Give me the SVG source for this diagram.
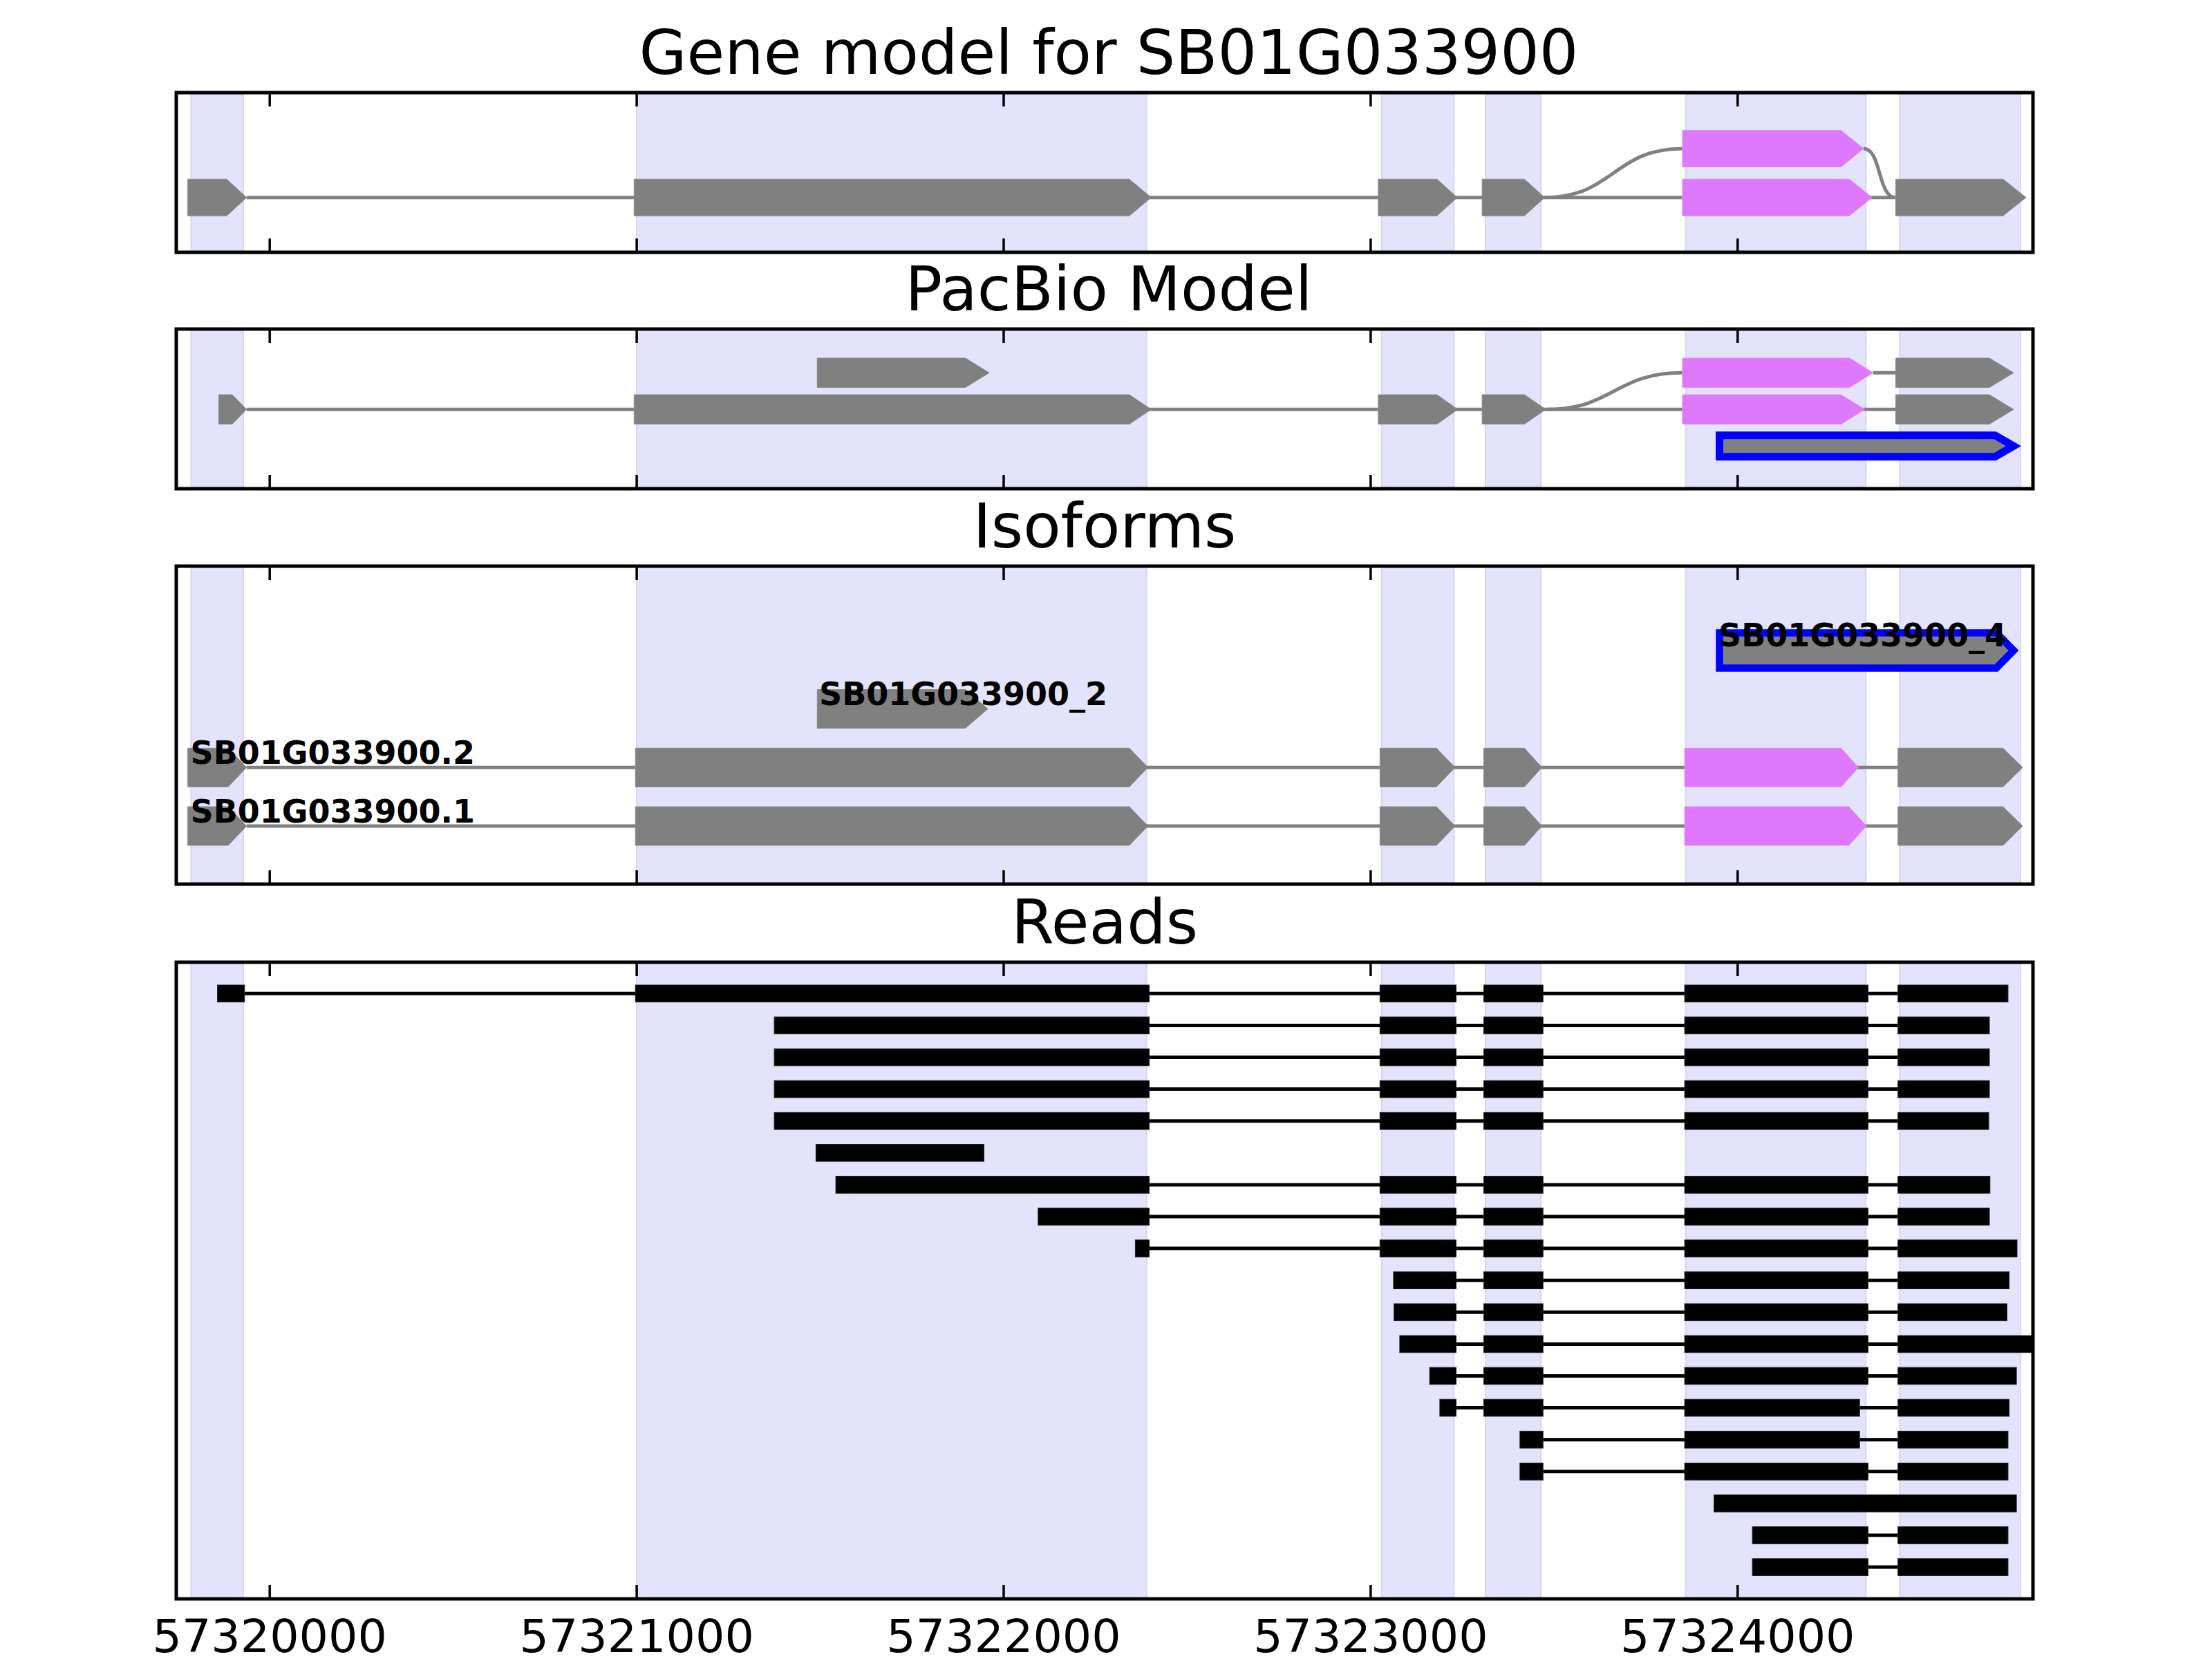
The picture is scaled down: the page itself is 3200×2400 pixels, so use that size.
<svg xmlns="http://www.w3.org/2000/svg" width="3200" height="2400" viewBox="0 0 3200 2400">
<style>
.bg{fill:#ffffff}
.span{fill:#e3e3fc;stroke:#d6d6ee;stroke-width:2}
.frame{fill:none;stroke:#000;stroke-width:5}
.tick{stroke:#000;stroke-width:3.5}
.title{font-family:"DejaVu Sans","Liberation Sans",sans-serif;font-size:89px;fill:#000;text-anchor:middle}
.tl{font-family:"DejaVu Sans","Liberation Sans",sans-serif;font-size:66.7px;fill:#000;text-anchor:middle}
.lab{font-family:"DejaVu Sans","Liberation Sans",sans-serif;font-weight:bold;font-size:46px;fill:#000}
.ex{fill:#808080;stroke:#8a8a8a;stroke-width:1}
.pk{fill:#de78fc;stroke:#e08cfa;stroke-width:1}
.bl{fill:#808080;stroke:#0000ff;stroke-width:11;stroke-linejoin:miter}
.gl{fill:none;stroke:#808080;stroke-width:5}
.rd{fill:#000;stroke:#222;stroke-width:1}
.rl{stroke:#000;stroke-width:5}
</style>
<defs>
<clipPath id="c4"><rect x="255" y="1392" width="2686" height="921"/></clipPath>
</defs>
<rect class="bg" x="0" y="0" width="3200" height="2400"/>

<!-- Titles -->
<text class="title" x="1604" y="107">Gene model for SB01G033900</text>
<text class="title" x="1604" y="449">PacBio Model</text>
<text class="title" x="1598" y="792">Isoforms</text>
<text class="title" x="1598" y="1365">Reads</text>

<!-- Panel 1 -->
<g id="panel1-bg">
<rect class="span" x="276.4" y="136" width="75.6" height="227"/>
<rect class="span" x="921" y="136" width="737.7" height="227"/>
<rect class="span" x="1998.8" y="136" width="104.5" height="227"/>
<rect class="span" x="2149" y="136" width="80" height="227"/>
<rect class="span" x="2438.8" y="136" width="260.4" height="227"/>
<rect class="span" x="2748.2" y="136" width="174.7" height="227"/>
</g>
<g id="panel1-ticks">
<line class="tick" x1="390.2" y1="134" x2="390.2" y2="154"/><line class="tick" x1="390.2" y1="365" x2="390.2" y2="345"/>
<line class="tick" x1="921.1" y1="134" x2="921.1" y2="154"/><line class="tick" x1="921.1" y1="365" x2="921.1" y2="345"/>
<line class="tick" x1="1452" y1="134" x2="1452" y2="154"/><line class="tick" x1="1452" y1="365" x2="1452" y2="345"/>
<line class="tick" x1="1982.9" y1="134" x2="1982.9" y2="154"/><line class="tick" x1="1982.9" y1="365" x2="1982.9" y2="345"/>
<line class="tick" x1="2513.8" y1="134" x2="2513.8" y2="154"/><line class="tick" x1="2513.8" y1="365" x2="2513.8" y2="345"/>
</g>
<g id="connectors-panel1">
<line class="gl" x1="356.7" y1="285.7" x2="2742.4" y2="285.7"/>
<path class="gl" d="M2234.7,285.7 C2334,285.7 2334,215 2433.9,215"/>
<path class="gl" d="M2695.9,215 C2722,215 2716,285.7 2742.4,285.7"/>
</g>
<g id="gene-model">
<polygon class="ex" points="271.6,259.2 328,259.2 356.7,285.7 328,312.2 271.6,312.2"/>
<polygon class="ex" points="917.3,259.2 1633.8,259.2 1665.4,285.7 1633.8,312.2 917.3,312.2"/>
<polygon class="ex" points="1993.9,259.2 2078.8,259.2 2108.2,285.7 2078.8,312.2 1993.9,312.2"/>
<polygon class="ex" points="2144.1,259.2 2205.3,259.2 2234.7,285.7 2205.3,312.2 2144.1,312.2"/>
<polygon class="pk" points="2433.9,259.2 2675.5,259.2 2708.2,285.7 2675.5,312.2 2433.9,312.2"/>
<polygon class="ex" points="2742.4,259.2 2897.6,259.2 2931,285.7 2897.6,312.2 2742.4,312.2"/>
<polygon class="pk" points="2433.9,188.5 2663.3,188.5 2695.9,215 2663.3,241.5 2433.9,241.5"/>
</g>
<rect class="frame" x="255" y="134" width="2686" height="231"/>

<!-- Panel 2 -->
<g id="panel2-bg">
<rect class="span" x="276.4" y="478" width="75.6" height="227"/>
<rect class="span" x="921" y="478" width="737.7" height="227"/>
<rect class="span" x="1998.8" y="478" width="104.5" height="227"/>
<rect class="span" x="2149" y="478" width="80" height="227"/>
<rect class="span" x="2438.8" y="478" width="260.4" height="227"/>
<rect class="span" x="2748.2" y="478" width="174.7" height="227"/>
</g>
<g id="panel2-ticks">
<line class="tick" x1="390.2" y1="476" x2="390.2" y2="496"/><line class="tick" x1="390.2" y1="707" x2="390.2" y2="687"/>
<line class="tick" x1="921.1" y1="476" x2="921.1" y2="496"/><line class="tick" x1="921.1" y1="707" x2="921.1" y2="687"/>
<line class="tick" x1="1452" y1="476" x2="1452" y2="496"/><line class="tick" x1="1452" y1="707" x2="1452" y2="687"/>
<line class="tick" x1="1982.9" y1="476" x2="1982.9" y2="496"/><line class="tick" x1="1982.9" y1="707" x2="1982.9" y2="687"/>
<line class="tick" x1="2513.8" y1="476" x2="2513.8" y2="496"/><line class="tick" x1="2513.8" y1="707" x2="2513.8" y2="687"/>
</g>
<g id="connectors-panel2">
<line class="gl" x1="356.7" y1="592.3" x2="2742.4" y2="592.3"/>
<line class="gl" x1="2709.8" y1="539.3" x2="2742.4" y2="539.3"/>
<path class="gl" d="M2236.3,592.3 C2335,592.3 2335,539.3 2433.9,539.3"/>
</g>
<g id="pacbio-model">
<polygon class="ex" points="1182.3,518 1396.6,518 1431,539.3 1396.6,560.6 1182.3,560.6"/>
<polygon class="pk" points="2433.9,518 2675.5,518 2709.8,539.3 2675.5,560.6 2433.9,560.6"/>
<polygon class="ex" points="2742.4,518 2878,518 2913,539.3 2878,560.6 2742.4,560.6"/>
<polygon class="ex" points="316.5,571 336,571 356.7,592.3 336,613.6 316.5,613.6"/>
<polygon class="ex" points="917.3,571 1633.8,571 1665.4,592.3 1633.8,613.6 917.3,613.6"/>
<polygon class="ex" points="1993.9,571 2078.8,571 2109,592.3 2078.8,613.6 1993.9,613.6"/>
<polygon class="ex" points="2144.1,571 2205.3,571 2236.3,592.3 2205.3,613.6 2144.1,613.6"/>
<polygon class="pk" points="2433.9,571 2663.3,571 2697.6,592.3 2663.3,613.6 2433.9,613.6"/>
<polygon class="ex" points="2742.4,571 2878,571 2913,592.3 2878,613.6 2742.4,613.6"/>
<polygon class="bl" points="2487.5,629.8 2886,629.8 2913,645.3 2886,660.8 2487.5,660.8"/>
</g>
<rect class="frame" x="255" y="476" width="2686" height="231"/>

<!-- Panel 3 -->
<g id="panel3-bg">
<rect class="span" x="276.4" y="821" width="75.6" height="456"/>
<rect class="span" x="921" y="821" width="737.7" height="456"/>
<rect class="span" x="1998.8" y="821" width="104.5" height="456"/>
<rect class="span" x="2149" y="821" width="80" height="456"/>
<rect class="span" x="2438.8" y="821" width="260.4" height="456"/>
<rect class="span" x="2748.2" y="821" width="174.7" height="456"/>
</g>
<g id="panel3-ticks">
<line class="tick" x1="390.2" y1="819" x2="390.2" y2="839"/><line class="tick" x1="390.2" y1="1279" x2="390.2" y2="1259"/>
<line class="tick" x1="921.1" y1="819" x2="921.1" y2="839"/><line class="tick" x1="921.1" y1="1279" x2="921.1" y2="1259"/>
<line class="tick" x1="1452" y1="819" x2="1452" y2="839"/><line class="tick" x1="1452" y1="1279" x2="1452" y2="1259"/>
<line class="tick" x1="1982.9" y1="819" x2="1982.9" y2="839"/><line class="tick" x1="1982.9" y1="1279" x2="1982.9" y2="1259"/>
<line class="tick" x1="2513.8" y1="819" x2="2513.8" y2="839"/><line class="tick" x1="2513.8" y1="1279" x2="2513.8" y2="1259"/>
</g>
<g id="connectors-panel3">
<line class="gl" x1="356.7" y1="1110.3" x2="2745.7" y2="1110.3"/>
<line class="gl" x1="356.7" y1="1195" x2="2745.7" y2="1195"/>
</g>
<g id="iso-4">
<polygon class="bl" points="2487.5,915.5 2888,915.5 2913,941 2888,966.5 2487.5,966.5" style="stroke-width:10.5"/>
<text class="lab" x="2486" y="935">SB01G033900_4</text>
</g>
<g id="iso-_2">
<polygon class="ex" points="1182.3,997.5 1396.6,997.5 1429.1,1025.5 1396.6,1053.5 1182.3,1053.5"/>
<text class="lab" x="1185" y="1020">SB01G033900_2</text>
</g>
<g id="iso-.2">
<polygon class="ex" points="271.6,1082.3 330,1082.3 356.7,1110.3 330,1138.3 271.6,1138.3"/>
<polygon class="ex" points="919.2,1082.3 1633.8,1082.3 1660.6,1110.3 1633.8,1138.3 919.2,1138.3"/>
<polygon class="ex" points="1996.3,1082.3 2078,1082.3 2105,1110.3 2078,1138.3 1996.3,1138.3"/>
<polygon class="ex" points="2146.5,1082.3 2205.3,1082.3 2230.6,1110.3 2205.3,1138.3 2146.5,1138.3"/>
<polygon class="pk" points="2437.1,1082.3 2663.3,1082.3 2688.6,1110.3 2663.3,1138.3 2437.1,1138.3"/>
<polygon class="ex" points="2745.7,1082.3 2897.6,1082.3 2926.1,1110.3 2897.6,1138.3 2745.7,1138.3"/>
<text class="lab" x="275.5" y="1105">SB01G033900.2</text>
</g>
<g id="iso-.1">
<polygon class="ex" points="271.6,1167 330,1167 356.7,1195 330,1223 271.6,1223"/>
<polygon class="ex" points="919.2,1167 1633.8,1167 1660.6,1195 1633.8,1223 919.2,1223"/>
<polygon class="ex" points="1996.3,1167 2078,1167 2105,1195 2078,1223 1996.3,1223"/>
<polygon class="ex" points="2146.5,1167 2205.3,1167 2230.6,1195 2205.3,1223 2146.5,1223"/>
<polygon class="pk" points="2437.1,1167 2674.7,1167 2700,1195 2674.7,1223 2437.1,1223"/>
<polygon class="ex" points="2745.7,1167 2897.6,1167 2926.1,1195 2897.6,1223 2745.7,1223"/>
<text class="lab" x="275.5" y="1190">SB01G033900.1</text>
</g>
<rect class="frame" x="255" y="819" width="2686" height="460"/>

<!-- Panel 4 -->
<g id="panel4-bg">
<rect class="span" x="276.4" y="1394" width="75.6" height="917"/>
<rect class="span" x="921" y="1394" width="737.7" height="917"/>
<rect class="span" x="1998.8" y="1394" width="104.5" height="917"/>
<rect class="span" x="2149" y="1394" width="80" height="917"/>
<rect class="span" x="2438.8" y="1394" width="260.4" height="917"/>
<rect class="span" x="2748.2" y="1394" width="174.7" height="917"/>
</g>
<g id="panel4-ticks">
<line class="tick" x1="390.2" y1="1392" x2="390.2" y2="1412"/><line class="tick" x1="390.2" y1="2313" x2="390.2" y2="2293"/>
<line class="tick" x1="921.1" y1="1392" x2="921.1" y2="1412"/><line class="tick" x1="921.1" y1="2313" x2="921.1" y2="2293"/>
<line class="tick" x1="1452" y1="1392" x2="1452" y2="1412"/><line class="tick" x1="1452" y1="2313" x2="1452" y2="2293"/>
<line class="tick" x1="1982.9" y1="1392" x2="1982.9" y2="1412"/><line class="tick" x1="1982.9" y1="2313" x2="1982.9" y2="2293"/>
<line class="tick" x1="2513.8" y1="1392" x2="2513.8" y2="1412"/><line class="tick" x1="2513.8" y1="2313" x2="2513.8" y2="2293"/>
</g>
<g id="connectors-reads" clip-path="url(#c4)">
<line class="rl" x1="353.8" y1="1437.3" x2="2745.7" y2="1437.3"/>
<line class="rl" x1="1662.5" y1="1483.4" x2="2745.7" y2="1483.4"/>
<line class="rl" x1="1662.5" y1="1529.5" x2="2745.7" y2="1529.5"/>
<line class="rl" x1="1662.5" y1="1575.6" x2="2745.7" y2="1575.6"/>
<line class="rl" x1="1662.5" y1="1621.7" x2="2745.7" y2="1621.7"/>
<line class="rl" x1="1662.5" y1="1713.9" x2="2745.7" y2="1713.9"/>
<line class="rl" x1="1662.5" y1="1760" x2="2745.7" y2="1760"/>
<line class="rl" x1="1662.5" y1="1806.1" x2="2745.7" y2="1806.1"/>
<line class="rl" x1="2106.5" y1="1852.2" x2="2745.7" y2="1852.2"/>
<line class="rl" x1="2106.5" y1="1898.3" x2="2745.7" y2="1898.3"/>
<line class="rl" x1="2106.5" y1="1944.4" x2="2745.7" y2="1944.4"/>
<line class="rl" x1="2106.5" y1="1990.5" x2="2745.7" y2="1990.5"/>
<line class="rl" x1="2106.5" y1="2036.6" x2="2745.7" y2="2036.6"/>
<line class="rl" x1="2232.2" y1="2082.7" x2="2745.7" y2="2082.7"/>
<line class="rl" x1="2232.2" y1="2128.8" x2="2745.7" y2="2128.8"/>
<line class="rl" x1="2702.4" y1="2221" x2="2745.7" y2="2221"/>
<line class="rl" x1="2702.4" y1="2267.1" x2="2745.7" y2="2267.1"/>
</g>
<g id="reads" clip-path="url(#c4)">
<g id="read1"><rect class="rd" x="314.6" y="1425" width="39.2" height="24.6"/><rect class="rd" x="919.2" y="1425" width="743.3" height="24.6"/><rect class="rd" x="1996.3" y="1425" width="110.2" height="24.6"/><rect class="rd" x="2146.5" y="1425" width="85.7" height="24.6"/><rect class="rd" x="2437.1" y="1425" width="265.3" height="24.6"/><rect class="rd" x="2745.7" y="1425" width="159.2" height="24.6"/></g>
<g id="read2"><rect class="rd" x="1120.1" y="1471.1" width="542.4" height="24.6"/><rect class="rd" x="1996.3" y="1471.1" width="110.2" height="24.6"/><rect class="rd" x="2146.5" y="1471.1" width="85.7" height="24.6"/><rect class="rd" x="2437.1" y="1471.1" width="265.3" height="24.6"/><rect class="rd" x="2745.7" y="1471.1" width="132.3" height="24.6"/></g>
<g id="read3"><rect class="rd" x="1120.1" y="1517.2" width="542.4" height="24.6"/><rect class="rd" x="1996.3" y="1517.2" width="110.2" height="24.6"/><rect class="rd" x="2146.5" y="1517.2" width="85.7" height="24.6"/><rect class="rd" x="2437.1" y="1517.2" width="265.3" height="24.6"/><rect class="rd" x="2745.7" y="1517.2" width="132.3" height="24.6"/></g>
<g id="read4"><rect class="rd" x="1120.1" y="1563.3" width="542.4" height="24.6"/><rect class="rd" x="1996.3" y="1563.3" width="110.2" height="24.6"/><rect class="rd" x="2146.5" y="1563.3" width="85.7" height="24.6"/><rect class="rd" x="2437.1" y="1563.3" width="265.3" height="24.6"/><rect class="rd" x="2745.7" y="1563.3" width="132.3" height="24.6"/></g>
<g id="read5"><rect class="rd" x="1120.1" y="1609.4" width="542.4" height="24.6"/><rect class="rd" x="1996.3" y="1609.4" width="110.2" height="24.6"/><rect class="rd" x="2146.5" y="1609.4" width="85.7" height="24.6"/><rect class="rd" x="2437.1" y="1609.4" width="265.3" height="24.6"/><rect class="rd" x="2745.7" y="1609.4" width="131.3" height="24.6"/></g>
<g id="read6"><rect class="rd" x="1180.4" y="1655.5" width="243" height="24.6"/></g>
<g id="read7"><rect class="rd" x="1209.1" y="1701.6" width="453.4" height="24.6"/><rect class="rd" x="1996.3" y="1701.6" width="110.2" height="24.6"/><rect class="rd" x="2146.5" y="1701.6" width="85.7" height="24.6"/><rect class="rd" x="2437.1" y="1701.6" width="265.3" height="24.6"/><rect class="rd" x="2745.7" y="1701.6" width="133.1" height="24.6"/></g>
<g id="read8"><rect class="rd" x="1501.8" y="1747.7" width="160.7" height="24.6"/><rect class="rd" x="1996.3" y="1747.7" width="110.2" height="24.6"/><rect class="rd" x="2146.5" y="1747.7" width="85.7" height="24.6"/><rect class="rd" x="2437.1" y="1747.7" width="265.3" height="24.6"/><rect class="rd" x="2745.7" y="1747.7" width="132.3" height="24.6"/></g>
<g id="read9"><rect class="rd" x="1642.4" y="1793.8" width="20.1" height="24.6"/><rect class="rd" x="1996.3" y="1793.8" width="110.2" height="24.6"/><rect class="rd" x="2146.5" y="1793.8" width="85.7" height="24.6"/><rect class="rd" x="2437.1" y="1793.8" width="265.3" height="24.6"/><rect class="rd" x="2745.7" y="1793.8" width="172.3" height="24.6"/></g>
<g id="read10"><rect class="rd" x="2015.9" y="1839.9" width="90.6" height="24.6"/><rect class="rd" x="2146.5" y="1839.9" width="85.7" height="24.6"/><rect class="rd" x="2437.1" y="1839.9" width="265.3" height="24.6"/><rect class="rd" x="2745.7" y="1839.9" width="160.8" height="24.6"/></g>
<g id="read11"><rect class="rd" x="2016.7" y="1886" width="89.8" height="24.6"/><rect class="rd" x="2146.5" y="1886" width="85.7" height="24.6"/><rect class="rd" x="2437.1" y="1886" width="265.3" height="24.6"/><rect class="rd" x="2745.7" y="1886" width="157.6" height="24.6"/></g>
<g id="read12"><rect class="rd" x="2024.9" y="1932.1" width="81.6" height="24.6"/><rect class="rd" x="2146.5" y="1932.1" width="85.7" height="24.6"/><rect class="rd" x="2437.1" y="1932.1" width="265.3" height="24.6"/><rect class="rd" x="2745.7" y="1932.1" width="210" height="24.6"/></g>
<g id="read13"><rect class="rd" x="2068.2" y="1978.2" width="38.3" height="24.6"/><rect class="rd" x="2146.5" y="1978.2" width="85.7" height="24.6"/><rect class="rd" x="2437.1" y="1978.2" width="265.3" height="24.6"/><rect class="rd" x="2745.7" y="1978.2" width="171.4" height="24.6"/></g>
<g id="read14"><rect class="rd" x="2082.9" y="2024.3" width="23.6" height="24.6"/><rect class="rd" x="2146.5" y="2024.3" width="85.7" height="24.6"/><rect class="rd" x="2437.1" y="2024.3" width="253.1" height="24.6"/><rect class="rd" x="2745.7" y="2024.3" width="160.8" height="24.6"/></g>
<g id="read15"><rect class="rd" x="2198.8" y="2070.4" width="33.4" height="24.6"/><rect class="rd" x="2437.1" y="2070.4" width="253.1" height="24.6"/><rect class="rd" x="2745.7" y="2070.4" width="159.2" height="24.6"/></g>
<g id="read16"><rect class="rd" x="2198.8" y="2116.5" width="33.4" height="24.6"/><rect class="rd" x="2437.1" y="2116.5" width="265.3" height="24.6"/><rect class="rd" x="2745.7" y="2116.5" width="159.2" height="24.6"/></g>
<g id="read17"><rect class="rd" x="2479.6" y="2162.6" width="437.5" height="24.6"/></g>
<g id="read18"><rect class="rd" x="2535.1" y="2208.7" width="167.3" height="24.6"/><rect class="rd" x="2745.7" y="2208.7" width="159.2" height="24.6"/></g>
<g id="read19"><rect class="rd" x="2535.1" y="2254.8" width="167.3" height="24.6"/><rect class="rd" x="2745.7" y="2254.8" width="159.2" height="24.6"/></g>
</g>
<rect class="frame" x="255" y="1392" width="2686" height="921"/>

<!-- X axis labels -->
<g id="xaxis">
<text class="tl" x="390.2" y="2390">57320000</text>
<text class="tl" x="921.1" y="2390">57321000</text>
<text class="tl" x="1452" y="2390">57322000</text>
<text class="tl" x="1982.9" y="2390">57323000</text>
<text class="tl" x="2513.8" y="2390">57324000</text>
</g>
</svg>
